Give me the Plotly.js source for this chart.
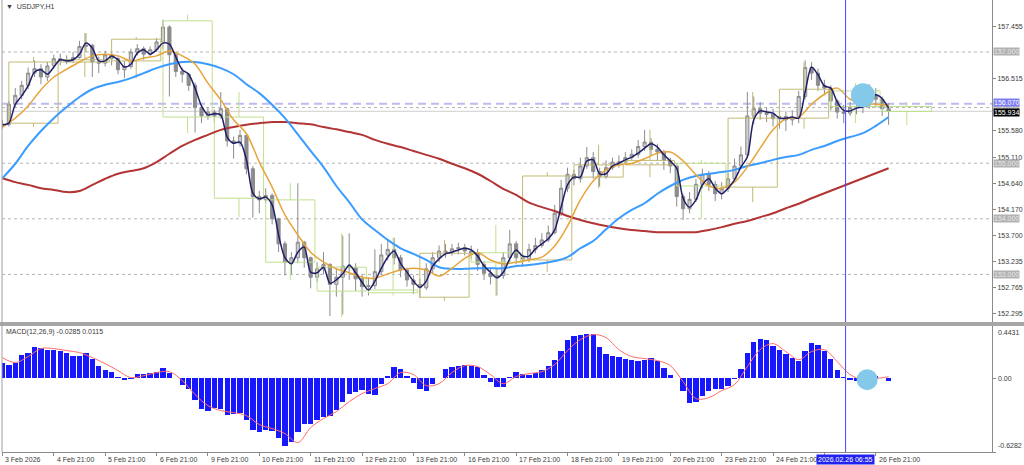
<!DOCTYPE html>
<html><head><meta charset="utf-8">
<script src="https://cdn.plot.ly/plotly-3.0.1.min.js"></script>
<style>html,body{margin:0;padding:0;background:#fff}#chart{width:1024px;height:465px}</style>
</head><body><div id="chart"></div>
<script>
// ---- USDJPY H1, sampled every 3 hours (candles) ----
const firstOpen = 155.66;
const candleClose = [
155.70,156.06,156.22,156.40,156.62,156.70,156.55,156.75,156.88,156.85,
156.86,156.90,157.10,157.12,156.82,156.80,156.95,156.88,156.68,156.74,
157.00,157.06,156.96,157.04,157.18,157.45,156.95,156.65,156.60,156.40,
156.00,155.85,155.92,155.85,155.98,155.40,155.36,155.50,154.90,154.40,
154.34,154.42,154.00,153.55,153.22,153.30,153.58,153.30,152.95,153.10,
153.18,152.82,152.95,153.15,153.12,152.92,152.78,152.80,153.05,153.35,
153.45,153.30,153.08,152.90,152.82,152.76,153.10,153.30,153.42,153.40,
153.46,153.48,153.42,153.38,153.18,153.02,152.96,152.98,153.30,153.55,
153.30,153.28,153.45,153.52,153.62,153.75,154.10,154.55,154.80,154.72,
154.95,155.10,154.85,154.76,154.92,155.02,155.02,155.10,155.16,155.30,
155.38,155.25,155.20,155.05,154.95,154.40,154.18,154.35,154.62,154.80,
154.62,154.45,154.55,154.72,154.95,155.15,155.85,155.98,155.90,155.88,
155.80,155.84,155.78,155.82,156.20,156.72,156.62,156.40,156.35,156.12,
155.92,155.90,156.00,156.02,156.05,156.22,156.15,155.98,155.93];
const candleHigh = [
155.78,156.12,156.35,156.48,156.72,156.85,156.78,156.82,156.95,156.97,
156.94,157.00,157.20,157.34,157.15,156.92,157.02,157.00,156.92,156.84,
157.06,157.14,157.10,157.10,157.25,157.58,157.48,157.00,156.72,156.62,
156.45,156.05,156.00,155.96,156.28,156.00,155.48,155.60,155.52,154.95,
154.50,154.55,154.46,154.02,153.60,153.40,154.64,153.60,153.32,153.22,
153.40,153.20,153.10,153.70,153.74,153.20,153.00,152.95,153.45,153.55,
153.62,153.66,153.35,153.12,152.98,152.92,153.20,153.40,153.52,153.55,
153.55,153.57,153.55,153.52,153.46,153.24,153.12,153.10,153.40,153.80,
153.60,153.40,153.55,153.66,153.74,153.88,154.25,154.70,154.92,154.88,
155.10,155.29,155.20,154.92,155.05,155.10,155.14,155.20,155.25,155.42,
155.60,155.45,155.35,155.24,155.10,155.00,154.45,154.48,154.72,154.90,
154.86,154.68,154.66,154.82,155.08,155.30,156.28,156.20,156.10,156.00,
155.98,155.94,155.92,155.95,156.30,156.85,156.82,156.70,156.50,156.40,
156.15,156.05,156.10,156.15,156.18,156.42,156.35,156.20,156.08];
const candleLow = [
155.62,155.66,156.00,156.15,156.33,156.55,156.42,156.48,156.70,156.76,
156.78,156.80,156.88,157.00,156.55,156.62,156.74,156.76,156.60,156.53,
156.70,156.94,156.86,156.92,157.00,157.05,156.20,156.55,156.45,156.30,
155.55,155.72,155.78,155.74,155.80,155.30,155.08,155.30,154.80,154.02,
154.10,154.28,153.90,153.40,152.98,153.00,153.20,153.12,152.75,152.86,
153.00,152.25,152.60,152.28,152.90,152.70,152.60,152.62,152.74,153.00,
153.25,153.18,152.95,152.78,152.65,152.58,152.72,153.02,153.22,153.30,
153.34,153.36,153.34,153.28,153.06,152.90,152.82,152.62,152.92,153.22,
153.18,153.14,153.22,153.38,153.48,153.58,153.72,154.05,154.48,154.60,
154.65,154.90,154.72,154.58,154.72,154.88,154.92,154.98,155.04,155.10,
155.22,155.15,155.05,154.88,154.82,154.22,153.98,154.10,154.30,154.55,
154.50,154.32,154.35,154.48,154.68,154.90,155.10,155.70,155.78,155.74,
155.66,155.62,155.58,155.68,155.72,156.15,156.50,156.30,156.22,155.95,
155.80,155.72,155.85,155.88,155.90,155.98,156.00,155.85,155.69];
// fast MA (navy), same sampling as candles
const maFast = [
155.69,155.72,156.06,156.21,156.39,156.64,156.68,156.60,156.73,156.86,
156.84,156.86,156.96,157.16,157.07,156.84,156.84,156.93,156.86,156.73,
156.78,156.98,157.04,156.96,157.04,157.16,157.14,156.91,156.68,156.60,
156.35,156.03,155.87,155.89,155.87,155.47,155.36,155.38,155.06,154.46,
154.36,154.39,154.25,153.71,153.30,153.19,153.40,153.49,153.04,153.03,
153.13,152.84,152.90,153.01,153.17,153.03,152.86,152.72,152.88,153.11,
153.31,153.42,153.20,153.04,152.88,152.77,152.88,153.15,153.28,153.37,
153.40,153.44,153.47,153.44,153.33,153.15,153.04,152.94,153.04,153.28,
153.44,153.33,153.33,153.46,153.55,153.64,153.80,154.21,154.61,154.75,
154.75,155.04,155.06,154.81,154.81,154.95,155.00,155.06,155.11,155.18,
155.27,155.35,155.29,155.15,155.04,154.91,154.37,154.21,154.34,154.61,
154.72,154.55,154.45,154.55,154.70,154.93,155.11,155.78,155.94,155.92,
155.90,155.81,155.81,155.83,155.81,156.28,156.73,156.59,156.39,156.35,
156.10,155.95,155.94,155.99,156.01,156.06,156.23,156.16,155.99];
// MACD histogram, same sampling as candles
const macdMain = [
0.132,0.115,0.132,0.200,0.217,0.268,0.259,0.242,0.242,0.234,
0.217,0.191,0.191,0.217,0.166,0.106,0.072,0.055,0.013,-0.013,
-0.004,0.038,0.038,0.047,0.055,0.089,0.047,0.004,-0.055,-0.089,
-0.183,-0.259,-0.276,-0.251,-0.259,-0.310,-0.302,-0.293,-0.353,-0.438,
-0.455,-0.438,-0.446,-0.506,-0.574,-0.540,-0.455,-0.387,-0.387,-0.353,
-0.327,-0.319,-0.268,-0.200,-0.132,-0.115,-0.098,-0.132,-0.140,-0.047,
0.021,0.098,0.081,0.021,-0.038,-0.089,-0.106,-0.047,0.004,0.081,
0.098,0.106,0.115,0.106,0.098,0.030,-0.030,-0.072,-0.072,0.013,
0.055,0.038,0.030,0.047,0.072,0.106,0.157,0.234,0.327,0.361,
0.370,0.378,0.378,0.268,0.208,0.191,0.183,0.166,0.157,0.149,
0.157,0.174,0.149,0.089,0.030,0.004,-0.106,-0.208,-0.200,-0.149,
-0.106,-0.089,-0.089,-0.064,-0.004,0.081,0.217,0.310,0.336,0.327,
0.276,0.242,0.208,0.174,0.149,0.234,0.302,0.285,0.234,0.166,
0.072,0.013,-0.013,-0.021,-0.013,0.021,0.021,0.004,-0.0285];
// slower lines, sampled every 6 hours
const macdSignal = [
0.174,0.132,0.183,0.251,0.251,0.234,0.217,0.174,0.123,0.064,
0.004,0.021,0.047,0.055,-0.021,-0.140,-0.234,-0.276,-0.293,-0.319,
-0.395,-0.429,-0.472,-0.548,-0.421,-0.344,-0.285,-0.200,-0.132,-0.089,
-0.047,0.047,0.030,-0.064,-0.047,0.047,0.106,0.098,0.030,-0.047,
0.013,0.038,0.055,0.115,0.234,0.327,0.370,0.344,0.242,0.183,
0.166,0.149,0.106,-0.030,-0.174,-0.166,-0.106,-0.055,0.098,0.242,
0.293,0.225,0.157,0.225,0.242,0.140,0.030,-0.013,-0.004,0.0115];
const maOrange = [
155.65,155.81,156.03,156.32,156.55,156.69,156.82,156.93,156.96,156.93,
156.84,156.89,156.93,157.02,156.93,156.78,156.44,156.14,155.78,155.53,
155.02,154.57,154.07,153.71,153.40,153.22,153.10,153.03,152.95,152.93,
153.01,153.08,153.11,153.08,152.97,153.11,153.29,153.39,153.26,153.19,
153.22,153.26,153.31,153.51,153.87,154.34,154.68,154.88,154.97,155.00,
155.08,155.18,155.20,155.04,154.79,154.59,154.55,154.66,154.93,155.27,
155.60,155.80,155.83,156.06,156.24,156.35,156.15,156.08,156.06,156.05];
const maBlue = [
154.73,154.99,155.31,155.58,155.81,156.01,156.19,156.33,156.41,156.46,
156.53,156.62,156.71,156.78,156.82,156.82,156.78,156.71,156.60,156.42,
156.26,156.05,155.81,155.52,155.22,154.93,154.59,154.30,153.99,153.80,
153.62,153.47,153.37,153.26,153.13,153.10,153.10,153.11,153.11,153.11,
153.15,153.17,153.20,153.24,153.31,153.47,153.60,153.81,154.01,154.16,
154.28,154.45,154.59,154.70,154.77,154.81,154.84,154.88,154.95,155.00,
155.06,155.11,155.15,155.24,155.31,155.40,155.47,155.54,155.67,155.83];
const maRed = [
154.73,154.66,154.61,154.55,154.52,154.48,154.50,154.61,154.72,154.81,
154.86,154.91,155.02,155.17,155.31,155.42,155.51,155.60,155.65,155.69,
155.72,155.74,155.74,155.72,155.70,155.65,155.61,155.56,155.51,155.42,
155.35,155.29,155.22,155.15,155.08,154.99,154.91,154.81,154.68,154.54,
154.43,154.29,154.21,154.14,154.05,153.98,153.92,153.87,153.83,153.80,
153.78,153.76,153.76,153.76,153.76,153.80,153.85,153.91,153.96,154.03,
154.10,154.19,154.27,154.37,154.46,154.55,154.64,154.73,154.82,154.91];
// daily candles overlay
const days   = ['4 Feb','5 Feb','6 Feb','9 Feb','10 Feb','11 Feb','12 Feb','13 Feb','16 Feb','17 Feb','18 Feb','19 Feb','20 Feb','23 Feb','24 Feb','25 Feb','26 Feb','27 Feb'];
const dOpen  = [155.72,156.82,156.84,157.56,155.83,154.34,153.13,152.72,152.59,153.39,153.26,154.75,154.97,155.00,154.57,155.81,156.30,156.02];
const dHigh  = [156.91,157.34,157.27,157.67,156.28,154.64,153.74,153.66,153.62,153.89,154.84,155.33,155.60,155.06,156.28,156.82,156.44,156.10];
const dLow   = [155.65,156.55,156.53,155.54,154.03,152.90,152.23,152.62,152.52,152.62,153.04,154.55,154.75,154.01,154.30,155.62,155.72,155.69];
const dClose = [156.82,156.86,157.23,155.83,154.37,153.22,152.70,152.67,153.38,153.22,154.77,154.97,155.05,154.59,155.81,156.33,156.02,155.93];
// axis labels (the 25 Feb label is hidden behind the crosshair label in the reference)
const xTickLabels = ['3 Feb 2026','4 Feb 21:00','5 Feb 21:00','6 Feb 21:00','9 Feb 21:00','10 Feb 21:00','11 Feb 21:00','12 Feb 21:00','13 Feb 21:00','16 Feb 21:00','17 Feb 21:00','18 Feb 21:00','19 Feb 21:00','20 Feb 21:00','23 Feb 21:00','24 Feb 21:00','','26 Feb 21:00'];
const priceTicks = [157.455,156.515,155.580,155.110,154.640,154.170,153.700,153.235,152.765,152.295];
const priceTickText = ['157.455','156.515','155.580','155.110','154.640','154.170','153.700','153.235','152.765','152.295'];
const roundLevels = [157,156,155,154,153];
const roundLevelText = ['157.000','156.000','155.000','154.000','153.000'];
const alertLevel = 156.070, alertText = '156.070';
const bidPrice = 155.934, bidText = '155.934';
const macdMax = 0.4431, macdMin = -0.6282;
const crosshairBar = 393.9, crosshairText = '2026.02.26 06:55';
const markPrice = {bar:[402], value:[156.22]};
const markMacd  = {bar:[404], value:[-0.013]};

// ---- build ----
const F = 'Liberation Sans, Arial, sans-serif';
const TXT = '#3a3a3a';
const cX = candleClose.map((_, k) => 3*k);
const sX = macdSignal.map((_, m) => 6*m);
const cOpen = candleClose.map((c, k) => k === 0 ? firstOpen : candleClose[k-1]);

function dayBoxes(up){
  const xs=[], ys=[];
  days.forEach((d,i)=>{
    const isUp = dClose[i] >= dOpen[i];
    if (isUp !== up) return;
    const x0 = 24*i+3, x1 = 24*i+26, xc = 24*i+14.5;
    const top = Math.max(dOpen[i], dClose[i]), bot = Math.min(dOpen[i], dClose[i]);
    xs.push(x0,x1,x1,x0,x0,null, xc,xc,null, xc,xc,null);
    ys.push(bot,bot,top,top,bot,null, dHigh[i],top,null, bot,dLow[i],null);
  });
  return {x:xs, y:ys, type:'scatter', mode:'lines', xaxis:'x', yaxis:'y',
    line:{color: up ? '#c2ba76' : '#bfe08e', width:1}, hoverinfo:'skip'};
}

const traces = [
  dayBoxes(true), dayBoxes(false),
  {type:'candlestick', x:cX, open:cOpen, high:candleHigh, low:candleLow, close:candleClose,
   xaxis:'x', yaxis:'y', whiskerwidth:0,
   increasing:{line:{color:'#8c8c8c', width:1}, fillcolor:'#cfcfcf'},
   decreasing:{line:{color:'#8c8c8c', width:1}, fillcolor:'#8c8c8c'}, hoverinfo:'skip'},
  {x:sX, y:maRed, type:'scatter', mode:'lines', line:{color:'#b23434', width:2, shape:'spline'}, xaxis:'x', yaxis:'y'},
  {x:sX, y:maBlue, type:'scatter', mode:'lines', line:{color:'#3b9cff', width:2, shape:'spline'}, xaxis:'x', yaxis:'y'},
  {x:sX, y:maOrange, type:'scatter', mode:'lines', line:{color:'#e6a53a', width:1.5, shape:'spline'}, xaxis:'x', yaxis:'y'},
  {x:cX, y:maFast, type:'scatter', mode:'lines', line:{color:'#1e1e6a', width:1.5, shape:'spline', smoothing:0.8}, xaxis:'x', yaxis:'y'},
  {x:markPrice.bar, y:markPrice.value, type:'scatter', mode:'markers', marker:{size:24, color:'#84c8ea'}, xaxis:'x', yaxis:'y'},
  {x:cX, y:macdMain, type:'bar', width:2.5, marker:{color:'#1818ff', line:{width:0}}, xaxis:'x', yaxis:'y2'},
  {x:sX, y:macdSignal, type:'scatter', mode:'lines', line:{color:'#ff6a6a', width:1, shape:'spline'}, xaxis:'x', yaxis:'y2'},
  {x:markMacd.bar, y:markMacd.value, type:'scatter', mode:'markers', marker:{size:21, color:'#84c8ea'}, xaxis:'x', yaxis:'y2'}
];

const xTickVals = xTickLabels.map((_, n) => 24*n);
const shapes = [];
roundLevels.forEach(v => shapes.push({type:'line', xref:'paper', yref:'y', x0:0, x1:1, y0:v, y1:v, layer:'below', line:{color:'#b4b4b4', width:1, dash:'dot'}}));
shapes.push({type:'line', xref:'paper', yref:'y', x0:0, x1:1, y0:bidPrice, y1:bidPrice, layer:'below', line:{color:'#cdcdcd', width:1}});
shapes.push({type:'line', xref:'paper', yref:'y', x0:0, x1:1, y0:alertLevel, y1:alertLevel, layer:'below', line:{color:'#bcbcf0', width:2, dash:'8px,5px'}});
shapes.push({type:'line', xref:'x', yref:'paper', x0:crosshairBar, x1:crosshairBar, y0:0, y1:1, line:{color:'#4646ff', width:1}});
shapes.push({type:'rect', xref:'paper', yref:'paper', x0:-0.01, x1:1.04, y0:0.2788, y1:0.2876, fillcolor:'#a6a6a6', line:{width:0}});
shapes.push({type:'line', xref:'paper', yref:'paper', x0:0, x1:0, y0:0, y1:1, line:{color:'#a0a0a0', width:1}});

const ann = [];
ann.push({xref:'paper', yref:'paper', x:0, y:1, xanchor:'left', yanchor:'middle', xshift:2, yshift:-6, showarrow:false, text:'▼  USDJPY,H1', font:{family:F, size:7, color:TXT}});
ann.push({xref:'paper', yref:'paper', x:0, y:0.2788, xanchor:'left', yanchor:'middle', xshift:2, yshift:-6, showarrow:false, text:'MACD(12,26,9) -0.0285 0.0115', font:{family:F, size:7, color:TXT}});
xTickLabels.forEach((t, n) => { if (t) ann.push({xref:'x', yref:'paper', x:xTickVals[n], y:0, xanchor:'left', yanchor:'middle', xshift:1, yshift:-7, showarrow:false, text:t, font:{family:F, size:7, color:TXT}}); });
ann.push({xref:'x', yref:'paper', x:crosshairBar, y:0, xanchor:'center', yanchor:'middle', yshift:-7, showarrow:false, text:crosshairText, bgcolor:'#2222ee', borderpad:1, font:{family:F, size:7, color:'#ffffff'}});
roundLevels.forEach((v, i) => ann.push({xref:'paper', yref:'y', x:1, y:v, xanchor:'left', yanchor:'middle', xshift:1, showarrow:false, text:roundLevelText[i], bgcolor:'#b2b2b2', borderpad:0, font:{family:F, size:7, color:'#e6e6e6'}}));
ann.push({xref:'paper', yref:'y', x:1, y:bidPrice, xanchor:'left', yanchor:'middle', xshift:1, yshift:-1, showarrow:false, text:bidText, bgcolor:'#000000', borderpad:0, font:{family:F, size:7, color:'#ffffff'}});
ann.push({xref:'paper', yref:'y', x:1, y:alertLevel, xanchor:'left', yanchor:'middle', xshift:1, yshift:1, showarrow:false, text:alertText, bgcolor:'#7c7cf2', borderpad:0, font:{family:F, size:7, color:'#ffffff'}});
[[macdMax,'0.4431','top',-1],[0,'0.00','middle',0],[macdMin,'-0.6282','bottom',1]].forEach(a => ann.push({xref:'paper', yref:'y2', x:1, y:a[0], xanchor:'left', yanchor:a[2], xshift:4, yshift:a[3], showarrow:false, text:a[1], font:{family:F, size:7, color:TXT}}));

const layout = {
  width:1024, height:465, margin:{l:2, r:32, t:0, b:13},
  paper_bgcolor:'#ffffff', plot_bgcolor:'#ffffff', showlegend:false, bargap:0,
  xaxis:{range:[-0.2, 462.3], anchor:'y2', showgrid:false, zeroline:false, showline:true, linecolor:'#8a8a8a', linewidth:1,
         tickvals:xTickVals, ticks:'outside', ticklen:3, tickcolor:'#8a8a8a', showticklabels:false, rangeslider:{visible:false}, fixedrange:true},
  yaxis:{domain:[0.2876, 1], range:[152.144, 157.935], side:'right', anchor:'x', showgrid:false, zeroline:false,
         showline:true, linecolor:'#8a8a8a', linewidth:1, ticks:'outside', ticklen:3, tickcolor:'#8a8a8a',
         tickvals:priceTicks, ticktext:priceTickText, tickfont:{family:F, size:7, color:TXT}, fixedrange:true},
  yaxis2:{domain:[0, 0.2788], range:[macdMin, macdMax], side:'right', anchor:'x', showgrid:false, zeroline:false,
          showline:true, linecolor:'#8a8a8a', linewidth:1, ticks:'outside', ticklen:3, tickcolor:'#8a8a8a',
          tickvals:[macdMax, 0, macdMin], showticklabels:false, fixedrange:true},
  shapes:shapes, annotations:ann
};
Plotly.newPlot('chart', traces, layout, {staticPlot:true, displayModeBar:false});
</script></body></html>
